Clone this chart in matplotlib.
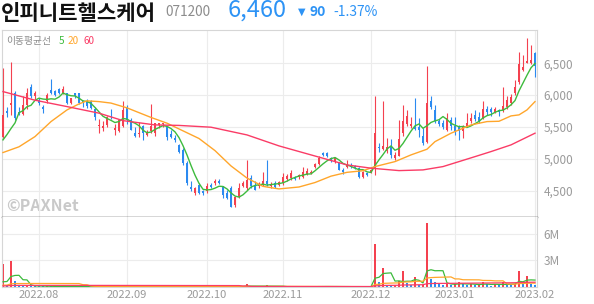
import numpy as np
import pandas as pd
import matplotlib
matplotlib.use("Agg")
import matplotlib.pyplot as plt

plt.rcParams['font.family'] = ['Noto Sans CJK KR', 'DejaVu Sans']

# ---- data ----
holidays = ['2022-08-15', '2022-09-09', '2022-09-12', '2022-10-03',
            '2022-10-10', '2022-12-30', '2023-01-23', '2023-01-24']

opens = [5350, 5750, 5840, 6030, 5740, 5700, 5850, 6120, 5980, 5920,
         5820, 5900, 6080, 6070, 6090, 6030, 6030, 5870, 6030, 6030,
         5900, 5900, 5910, 5790, 5510, 5480, 5530, 5680, 5450, 5440,
         5520, 5810, 5610, 5400, 5390, 5510, 5370, 5430, 5410, 5530,
         5540, 5510, 5390, 5330, 5220, 5140, 4930, 4560, 4470, 4590,
         4490, 4490, 4590, 4620, 4660, 4570, 4460, 4540, 4280, 4410,
         4580, 4540, 4700, 4590, 4570, 4590, 4650, 4570, 4620, 4590,
         4620, 4680, 4700, 4710, 4710, 4720, 4770, 4780, 4880, 4920,
         5090, 5100, 5010, 4960, 4930, 4830, 4880, 4910, 4890, 4860,
         4720, 4780, 4800, 4850, 5190, 5150, 5120, 5190, 5010, 5050,
         5400, 5550, 5520, 5500, 5500, 5360, 5270, 5900, 5770, 5590,
         5560, 5450, 5610, 5510, 5500, 5430, 5520, 5590, 5690, 5650,
         5640, 5790, 5790, 5740, 5770, 5770, 5820, 5880, 6030, 6200,
         6400, 6510, 6500, 6660]
highs = [6420, 5820, 6520, 6060, 5820, 5980, 6110, 6180, 6060, 5950,
         5850, 6030, 6250, 6080, 6110, 6140, 6030, 5960, 6040, 6040,
         5920, 5940, 5930, 5820, 5620, 5590, 5670, 5780, 5540, 5610,
         5910, 5840, 5640, 5500, 5580, 5530, 5460, 5860, 5570, 5570,
         5570, 5520, 5450, 5370, 5240, 5170, 4960, 4650, 4560, 4620,
         4520, 4620, 4620, 4680, 4680, 4570, 4520, 4570, 4410, 4620,
         4650, 4990, 4750, 4650, 4640, 4800, 4990, 4640, 4650, 4660,
         4780, 4760, 4830, 4740, 4770, 4880, 4850, 4830, 4940, 5040,
         5110, 5110, 5030, 5030, 4950, 4850, 4985, 4930, 4910, 4880,
         4810, 4800, 4840, 5980, 5250, 5910, 5320, 5310, 5110, 5610,
         5850, 5770, 5660, 5950, 5640, 5480, 6450, 5980, 5850, 5630,
         5610, 5720, 5650, 5650, 5530, 5530, 5720, 5720, 5770, 5740,
         5910, 5830, 5810, 5820, 5790, 6120, 5980, 6020, 6240, 6680,
         6630, 6890, 6790, 6670]
lows = [5320, 5660, 5690, 5610, 5690, 5690, 5790, 5950, 5940, 5840,
        5720, 5870, 6010, 5980, 6020, 6010, 5860, 5860, 5950, 5860,
        5820, 5800, 5780, 5610, 5400, 5430, 5500, 5630, 5380, 5420,
        5500, 5540, 5450, 5350, 5350, 5300, 5360, 5410, 5360, 5480,
        5500, 5300, 5320, 5270, 5100, 4900, 4590, 4490, 4430, 4450,
        4440, 4470, 4540, 4590, 4600, 4380, 4370, 4240, 4250, 4380,
        4560, 4520, 4540, 4510, 4550, 4570, 4570, 4550, 4540, 4570,
        4590, 4660, 4670, 4670, 4690, 4700, 4750, 4770, 4860, 4900,
        5040, 5030, 4950, 4940, 4820, 4770, 4850, 4850, 4840, 4700,
        4700, 4740, 4780, 4750, 5110, 5140, 5100, 5010, 4980, 5040,
        5360, 5510, 5480, 5450, 5350, 5220, 5250, 5790, 5570, 5520,
        5470, 5430, 5450, 5380, 5300, 5320, 5510, 5560, 5600, 5560,
        5620, 5690, 5670, 5720, 5670, 5740, 5790, 5850, 6000, 6170,
        6370, 6500, 6490, 6290]
closes = [5690, 5720, 5870, 5640, 5700, 5850, 6030, 5980, 6030, 5870,
          5780, 6000, 6030, 6000, 6040, 6090, 5870, 5950, 5980, 5870,
          5870, 5830, 5800, 5660, 5530, 5520, 5660, 5650, 5490, 5610,
          5760, 5610, 5460, 5360, 5410, 5410, 5410, 5520, 5560, 5560,
          5560, 5350, 5350, 5300, 5110, 4930, 4620, 4530, 4540, 4470,
          4460, 4570, 4560, 4650, 4620, 4440, 4380, 4250, 4400, 4540,
          4620, 4670, 4570, 4520, 4600, 4660, 4600, 4610, 4560, 4640,
          4720, 4730, 4780, 4680, 4750, 4790, 4810, 4800, 4920, 5020,
          5060, 5050, 4970, 5010, 4830, 4790, 4920, 4870, 4860, 4720,
          4790, 4750, 4820, 5400, 5170, 5200, 5190, 5060, 5060, 5310,
          5590, 5670, 5550, 5470, 5460, 5250, 5870, 5810, 5590, 5550,
          5500, 5640, 5510, 5440, 5430, 5520, 5560, 5640, 5620, 5600,
          5790, 5740, 5730, 5790, 5730, 5830, 5920, 5970, 6120, 6490,
          6440, 6540, 6550, 6460]
closes_before = [5300, 5400, 5200, 4900]   # last closes before the window (for MA5)

volume_m = [2.6, 0.25, 2.9, 0.67, 0.15, 0.12, 0.15, 0.12, 0.1, 0.08,
            0.06, 0.08, 0.07, 0.05, 0.06, 0.07, 0.05, 0.06, 0.05, 0.04,
            0.05, 0.04, 0.05, 0.06, 0.05, 0.04, 0.05, 0.04, 0.04, 0.05,
            0.08, 0.06, 0.05, 0.04, 0.04, 0.05, 0.03, 0.06, 0.05, 0.04,
            0.03, 0.04, 0.03, 0.03, 0.05, 0.06, 0.09, 0.06, 0.05, 0.04,
            0.03, 0.04, 0.03, 0.03, 0.03, 0.05, 0.04, 0.07, 0.05, 0.06,
            0.04, 0.30, 0.08, 0.05, 0.04, 0.06, 0.28, 0.06, 0.04, 0.03,
            0.05, 0.04, 0.05, 0.03, 0.03, 0.05, 0.04, 0.03, 0.05, 0.07,
            0.06, 0.05, 0.04, 0.04, 0.05, 0.04, 0.04, 0.03, 0.03, 0.05,
            0.04, 0.03, 0.04, 4.8, 0.56, 2.13, 0.26, 0.19, 0.19, 0.67,
            1.76, 0.45, 0.19, 1.12, 0.26, 0.26, 7.2, 0.86, 0.56, 0.3,
            0.22, 0.37, 0.26, 0.37, 0.52, 0.3, 0.22, 0.3, 0.22, 0.3,
            0.52, 0.3, 0.11, 0.3, 0.22, 0.52, 0.3, 0.22, 0.37, 1.76,
            0.3, 1.2, 0.37, 0.26]
volume_before_m = 0.08   # typical daily volume before the window (seeds volume MAs)

# moving averages of price (day index, value)
ma20_day = [0, 4, 8, 12, 16, 19, 21, 24, 27, 31, 37, 41, 45, 49, 53, 57, 61, 65, 69,
            74, 78, 82, 86, 90, 93, 98, 102, 106, 108, 112, 117, 121, 124, 127, 129, 131, 133]
ma20_val = [5100, 5190, 5350, 5585, 5768, 5862, 5910, 5898, 5875, 5800, 5650, 5560, 5440,
            5320, 5130, 4890, 4700, 4570, 4530, 4560, 4630, 4730, 4790, 4815, 4880, 4958,
            5063, 5152, 5271, 5403, 5533, 5585, 5590, 5674, 5690, 5768, 5898]
ma60_day = [0, 8, 16, 24, 30, 38, 44, 52, 61, 69, 77, 86, 92, 99, 105, 110, 114, 118, 122, 127, 133]
ma60_val = [6055, 5920, 5820, 5717, 5600, 5533, 5525, 5497, 5376, 5204, 5063, 4906, 4855,
            4817, 4828, 4880, 4958, 5036, 5115, 5220, 5403]

price_ticks = [4500, 5000, 5500, 6000, 6500]
volume_ticks_m = [3, 6]

RED = '#f4414f'
BLUE = '#2b8af0'
GREEN = '#3dbb3d'
ORANGE = '#ffa62b'
PINK = '#fa3c66'
GRID = '#ececec'
LABEL = '#9a9a9a'

# ---- prep ----
dates = pd.bdate_range('2022-07-19', '2023-02-01')
dates = dates[~dates.isin(pd.to_datetime(holidays))]
x = np.arange(len(dates))
o = np.array(opens, float)
h = np.array(highs, float)
l = np.array(lows, float)
c = np.array(closes, float)
up = c >= o

ma5 = pd.Series(closes_before + closes).rolling(5).mean().to_numpy()[len(closes_before):]

vol = np.array(volume_m) * 1e6
vol_prev = np.r_[volume_before_m * 1e6, vol[:-1]]
vol_col = np.where(vol >= vol_prev, RED, BLUE)
vol_ext = pd.Series(np.r_[np.full(59, volume_before_m * 1e6), vol])
vma = {n: vol_ext.rolling(n).mean().to_numpy()[59:] for n in (5, 20, 60)}

month_first = pd.Series(x, index=dates).groupby(dates.to_period('M')).first()
month_first = month_first[month_first.index > dates[0].to_period('M')]
month_labels = [p.strftime('%Y.%m') for p in month_first.index]

# ---- figure ----
W, H = 594, 304
fig = plt.figure(figsize=(W / 100, H / 100), dpi=100)
ax = fig.add_axes([2 / W, 1 - 217 / H, 535 / W, 187 / H])
axv = fig.add_axes([2 / W, 1 - 287 / H, 535 / W, 70 / H], sharex=ax)

# candles
col = np.where(up, RED, BLUE)
body = np.maximum(np.abs(c - o), 12)
ax.vlines(x, l, h, colors=col, lw=0.8, zorder=2)
ax.bar(x, body, bottom=np.minimum(o, c), width=0.72, color=col, lw=0, zorder=3)

ax.plot(x, ma5, color=GREEN, lw=1.0, zorder=4)
ax.plot(ma20_day, ma20_val, color=ORANGE, lw=1.0, zorder=4)
ax.plot(ma60_day, ma60_val, color=PINK, lw=1.0, zorder=4)

ax.set_xlim(-0.25, 133.5)
ax.set_ylim(4090, 7020)
ax.set_yticks(price_ticks)
ax.set_yticklabels([f'{v:,}' for v in price_ticks])
ax.yaxis.tick_right()
ax.set_xticks(month_first.values)
ax.tick_params(axis='x', length=0, labelbottom=False)
ax.tick_params(axis='y', length=0, pad=4.5, labelsize=8.5, labelcolor=LABEL)
ax.grid(True, color=GRID, lw=0.8, zorder=0)
for s in ('top', 'left', 'right'):
    ax.spines[s].set_color('#d6d6d6')
    ax.spines[s].set_linewidth(0.8)
ax.spines['bottom'].set_color('#333333')
ax.spines['bottom'].set_linewidth(1.0)

ax.text(0.008, 0.06, '©PAXNet', transform=ax.transAxes, fontsize=11.5,
        fontweight='bold', color='#c9c9c9', va='center', ha='left', zorder=1)

# volume
axv.bar(x, vol, width=0.72, color=vol_col, lw=0, zorder=2)
axv.plot(x, vma[5], color=GREEN, lw=0.9, zorder=3)
axv.plot(x, vma[20], color=ORANGE, lw=0.9, zorder=3)
axv.plot(x, vma[60], color=PINK, lw=0.9, zorder=3)
axv.set_ylim(0, 7.87e6)
axv.set_yticks([v * 1e6 for v in volume_ticks_m])
axv.set_yticklabels([f'{v}M' for v in volume_ticks_m])
axv.yaxis.tick_right()
axv.set_xticks(month_first.values)
axv.set_xticklabels(month_labels)
axv.tick_params(axis='x', length=0, pad=2.5, labelsize=8, labelcolor=LABEL)
axv.tick_params(axis='y', length=0, pad=4.5, labelsize=8.5, labelcolor=LABEL)
axv.grid(True, color=GRID, lw=0.8, zorder=0)
axv.spines['top'].set_visible(False)
for s in ('left', 'right', 'bottom'):
    axv.spines[s].set_color('#d6d6d6')
    axv.spines[s].set_linewidth(0.8)

# header
fig.text(1 / W, 1 - 13 / H, '인피니트헬스케어', fontsize=15.2, fontweight='bold',
         color='#111111', va='center', ha='left')
fig.text(165 / W, 1 - 12.5 / H, '071200', fontsize=9.8, color='#8c8c8c', va='center')
fig.text(228 / W, 1 - 10 / H, '6,460', fontsize=17, color='#2d93f5', va='center')
fig.text(298 / W, 1 - 12 / H, '▼', fontsize=7, color='#2d93f5', va='center',
         family=['DejaVu Sans'])
fig.text(310 / W, 1 - 12.5 / H, '90', fontsize=10, fontweight='bold', color='#2d93f5', va='center')
fig.text(333 / W, 1 - 12.5 / H, '-1.37%', fontsize=10, color='#2d93f5', va='center')

# MA legend
fig.text(6 / W, 1 - 41 / H, '이동평균선', fontsize=7, color='#8c8c8c', va='center')
fig.text(59 / W, 1 - 41 / H, '5', fontsize=7.2, color=GREEN, va='center')
fig.text(68 / W, 1 - 41 / H, '20', fontsize=7.2, color=ORANGE, va='center')
fig.text(83 / W, 1 - 41 / H, '60', fontsize=7.2, color=PINK, va='center')

fig.savefig('out.png', dpi=100)
